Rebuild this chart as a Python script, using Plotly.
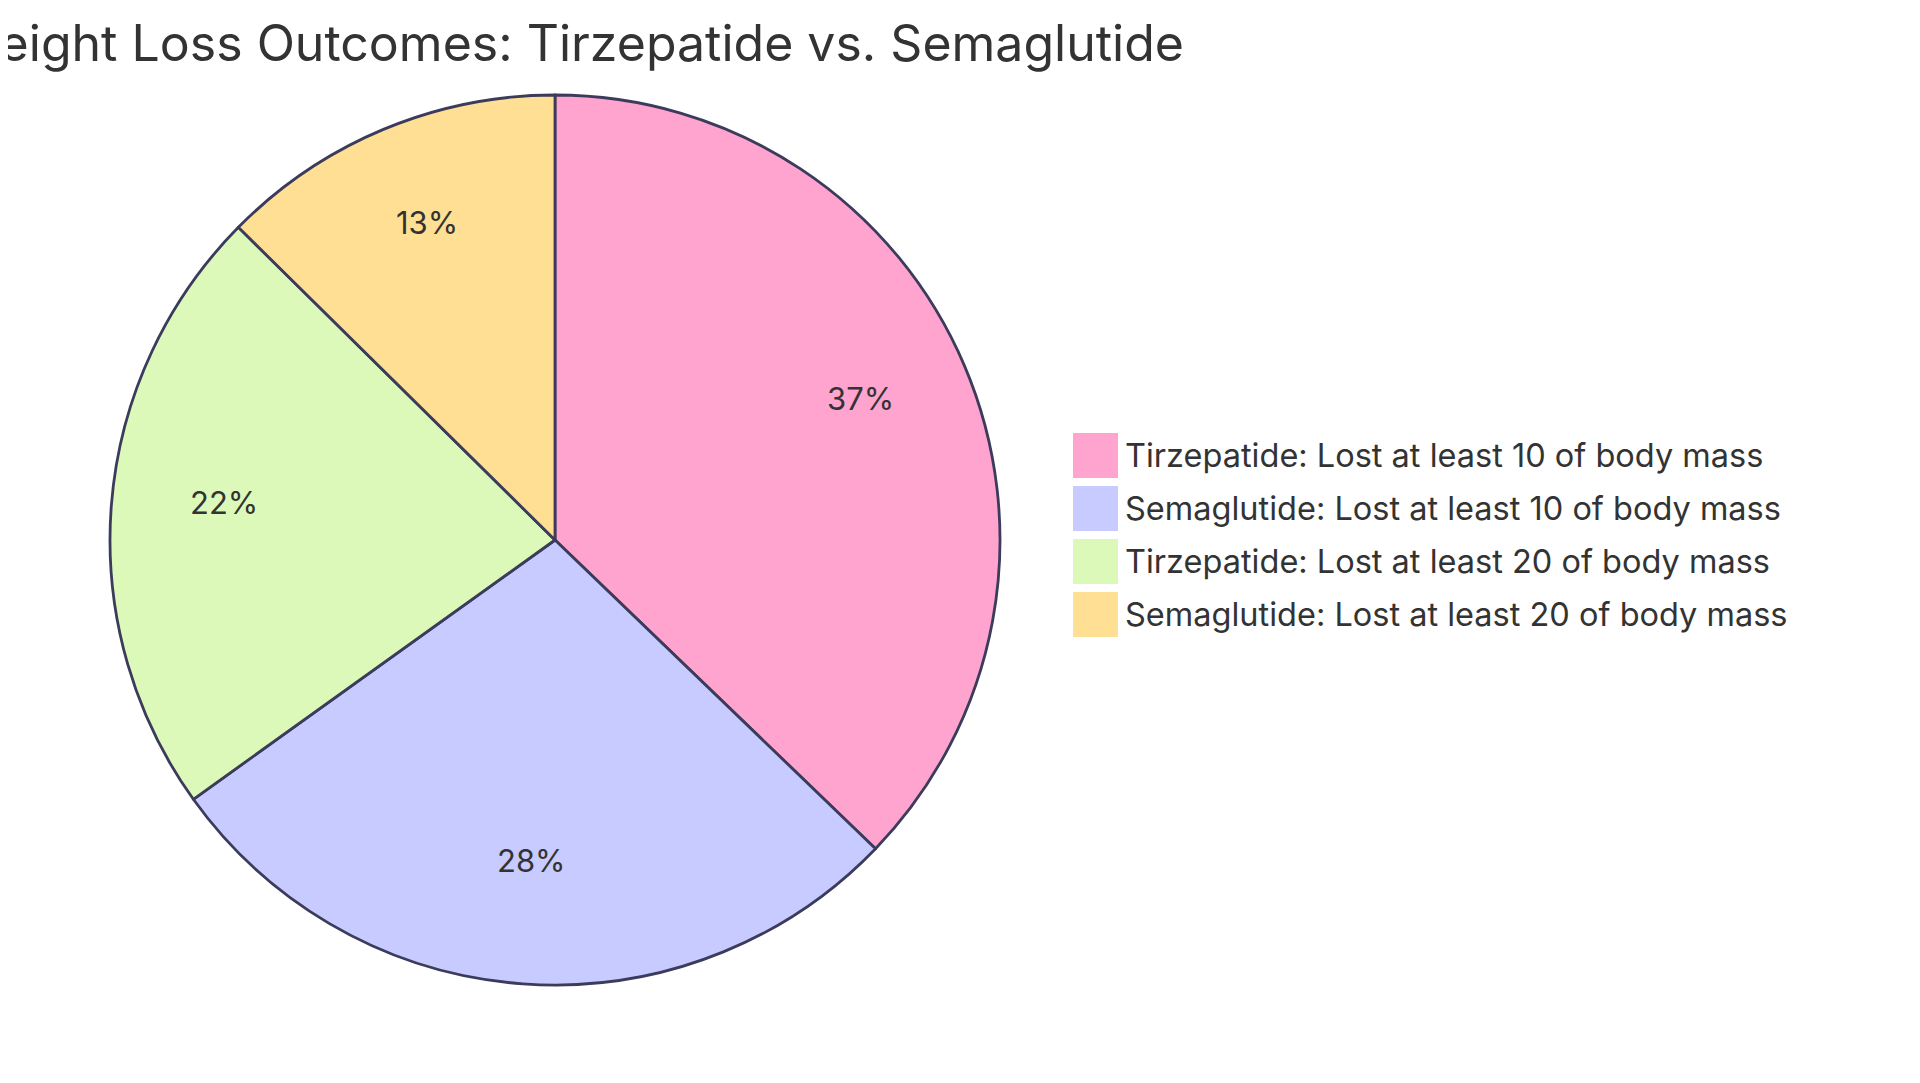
import math
import plotly.graph_objects as go

# ---- data ----
categories = [
    "Tirzepatide: Lost at least 10 of body mass",
    "Semaglutide: Lost at least 10 of body mass",
    "Tirzepatide: Lost at least 20 of body mass",
    "Semaglutide: Lost at least 20 of body mass",
]
values = [37.2, 27.9, 22.3, 12.6]
colors = ["#FFA3CF", "#C8CBFF", "#DCF9BA", "#FFDF94"]
title_text = "Weight Loss Outcomes: Tirzepatide vs. Semaglutide"

# page body has an 8px margin; figure fills the rest of the window
W, H = 1904, 1067
FONT = "Inter"
TEXT_COLOR = "#333333"
STROKE = "#3B3B5C"

# pie geometry (figure pixels)
cx, cy, r = 547, 532, 445

fig = go.Figure()
fig.add_trace(go.Pie(
    labels=categories,
    values=values,
    sort=False,
    direction="clockwise",
    rotation=0,
    marker=dict(colors=colors, line=dict(color=STROKE, width=2.8)),
    textinfo="none",
    domain=dict(x=[(cx - r) / W, (cx + r) / W],
                y=[(H - cy - r) / H, (H - cy + r) / H]),
    showlegend=False,
    hoverinfo="label+percent",
))

# percentage labels at 0.75 radius of each slice's mid-angle (baseline at centroid)
total = sum(values)
acc = 0.0
lab_r = 0.75 * 443
for v in values:
    mid = (acc + v / 2) / total * 2 * math.pi
    acc += v
    px = cx + lab_r * math.sin(mid)
    py = cy - lab_r * math.cos(mid) - 11
    fig.add_annotation(xref="paper", yref="paper", x=px / W, y=1 - py / H,
                       xanchor="center", yanchor="middle", showarrow=False,
                       text=f"{round(v / total * 100)}%",
                       font=dict(family=FONT, size=31, color=TEXT_COLOR))

# custom legend with large swatches
sw = 45
lx0 = 1065
ly0 = 425
step = 53
for i, (cat, col) in enumerate(zip(categories, colors)):
    top = ly0 + i * step
    fig.add_shape(type="rect", xref="paper", yref="paper",
                  x0=lx0 / W, x1=(lx0 + sw) / W,
                  y0=1 - (top + sw) / H, y1=1 - top / H,
                  fillcolor=col, line=dict(width=0), layer="above")
    fig.add_annotation(xref="paper", yref="paper",
                       x=(lx0 + sw + 5) / W, y=1 - (top + sw / 2) / H,
                       xanchor="left", yanchor="middle", showarrow=False,
                       text=cat, font=dict(family=FONT, size=32.5, color=TEXT_COLOR))

fig.update_layout(
    width=W, height=H,
    margin=dict(l=0, r=0, t=0, b=0),
    paper_bgcolor="white",
    plot_bgcolor="white",
    title=dict(text=title_text, x=1176 / W, xanchor="right", xref="paper",
               y=1 - 35 / H, yanchor="middle", yref="container",
               font=dict(family=FONT, size=50, color=TEXT_COLOR)),
    showlegend=False,
)

fig.write_html("out.html")
